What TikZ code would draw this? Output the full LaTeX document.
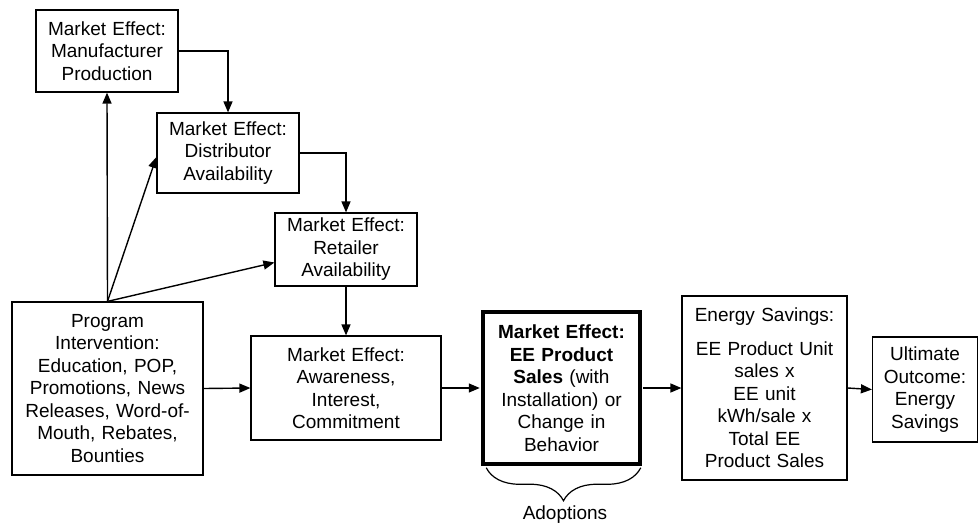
\documentclass[tikz,border=0pt]{standalone}
\usepackage{fontspec}
\setmainfont{Liberation Sans}
\usetikzlibrary{arrows.meta,decorations.pathreplacing}

\begin{document}
\begin{tikzpicture}[x=1pt,y=-1pt,font=\fontsize{19}{22.5}\selectfont,
    box/.style={draw,line width=1.2pt,align=center,inner xsep=0pt,inner ysep=0pt},
    arr/.style={-{Triangle[length=11pt,width=9pt]},line width=1.4pt}]
    \useasboundingbox (0,0) rectangle (979,525);

    \node[box,text width=142pt,minimum height=82pt] (manuf) at (107,51) {Market Effect:\\Manufacturer\\Production};
    \node[box,text width=142pt,minimum height=80pt] (distr) at (228,153) {Market Effect:\\Distributor\\Availability};
    \node[box,text width=142pt,minimum height=73pt] (retail) at (346,249.5) {Market Effect:\\Retailer\\Availability};
    \node[box,text width=191pt,minimum height=173pt] (prog) at (107.5,388.5) {Program\\Intervention:\\Education, POP,\\Promotions, News\\Releases, Word-of-\\Mouth, Rebates,\\Bounties};
    \node[box,text width=190pt,minimum height=104pt] (aware) at (346,388) {Market Effect:\\Awareness,\\Interest,\\Commitment};
    \node[box,line width=3.5pt,text width=157pt,minimum height=152pt] (sales) at (561.5,388) {\textbf{Market Effect:}\\\textbf{EE Product}\\\textbf{Sales} (with\\Installation) or\\Change in\\Behavior};
    \node[box,text width=165pt,minimum height=184pt] (energy) at (764.5,388) {Energy Savings:\\[11pt]EE Product Unit\\sales x\\EE unit\\kWh/sale x\\Total EE\\Product Sales};
    \node[box,text width=105pt,minimum height=105pt] (ultimate) at (925,389.5) {Ultimate\\Outcome:\\Energy\\Savings};
    \node (adopt) at (565,515) {Adoptions};

    \draw[arr] (manuf.east) -| (distr.north);
    \draw[arr] (distr.east) -| (retail.north);
    \draw[arr] (retail.south) -- (aware.north);
    \draw[arr] (prog.north) -- (manuf.south);
    \draw[arr] (prog.north) -- ([yshift=-4pt]distr.west);
    \draw[arr] (prog.north) -- ([yshift=-13pt]retail.west);
    \draw[arr] (prog.east) -- (aware.west);
    \draw[arr,shorten >=1.5pt] (aware.east) -- (sales.west);
    \draw[arr,shorten <=1.5pt] (sales.east) -- (energy.west);
    \draw[arr] (energy.east) -- (ultimate.west);
    \draw[line width=1.2pt,decorate,decoration={brace,mirror,amplitude=33pt}]
        ([shift={(5,2)}]sales.south west) -- ([shift={(-1,2)}]sales.south east);
\end{tikzpicture}
\end{document}
